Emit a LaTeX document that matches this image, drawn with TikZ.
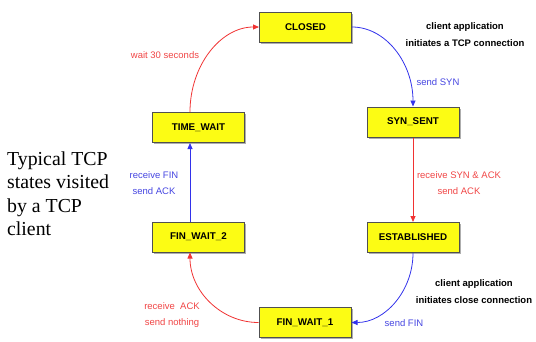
\documentclass[tikz,border=0pt]{standalone}
\usepackage{fontspec}
\setmainfont{Liberation Serif}
\setsansfont{Liberation Sans}
\usetikzlibrary{arrows.meta,shadows}
\definecolor{boxyellow}{RGB}{252,252,20}
\definecolor{boxedge}{RGB}{80,80,80}
\definecolor{lnred}{RGB}{240,50,50}
\definecolor{lnblue}{RGB}{50,50,235}
\definecolor{txred}{RGB}{240,70,70}
\definecolor{txblue}{RGB}{70,70,225}
\tikzset{
  state/.style={draw=boxedge, line width=1pt, fill=boxyellow, minimum width=92pt, minimum height=30pt, inner sep=0pt,
    font=\sffamily\bfseries\fontsize{9.8}{11}\selectfont,
    drop shadow={shadow xshift=1.5pt, shadow yshift=-1.5pt, fill=black!45, opacity=0.7}},
  redarr/.style={draw=lnred, line width=0.8pt, -{Triangle[length=6pt,width=5pt]}},
  bluearr/.style={draw=lnblue, line width=0.8pt, -{Triangle[length=6pt,width=5pt]}},
  redlbl/.style={text=txred, font=\sffamily\fontsize{9.5}{16}\selectfont, align=center, inner sep=0pt},
  bluelbl/.style={text=txblue, font=\sffamily\fontsize{9.5}{16}\selectfont, align=center, inner sep=0pt},
  notelbl/.style={text=black, font=\sffamily\bfseries\fontsize{9.5}{17}\selectfont, align=center, inner sep=0pt},
}
\begin{document}
\begin{tikzpicture}[x=1pt,y=1pt]
\useasboundingbox (0,0) rectangle (536,-341);
\node[state] (closed) at (305.5,-27) {CLOSED};
\node[state] (synsent) at (413,-122) {SYN\_SENT};
\node[state] (timewait) at (198.5,-127.5) {TIME\_WAIT};
\node[state] (finwait2) at (198.5,-237) {FIN\_WAIT\_2};
\node[state] (estab) at (413,-237.5) {ESTABLISHED};
\node[state] (finwait1) at (305,-322.5) {FIN\_WAIT\_1};

\coordinate (twtop) at ([xshift=-8.5pt]timewait.north);
\coordinate (twbot) at ([xshift=-8.5pt]timewait.south);
\coordinate (fw2top) at ([xshift=-8.5pt]finwait2.north);
\coordinate (fw2bot) at ([xshift=-8.5pt]finwait2.south);

\draw[redarr] (twtop) .. controls (190,-65) and (221,-27) .. (closed.west);
\draw[bluearr] (closed.east) .. controls (385.7,-27) and (413,-62.8) .. (synsent.north);
\draw[redarr] (synsent.south) -- (estab.north);
\draw[bluearr] (estab.south) .. controls (413,-291) and (385,-322.5) .. (finwait1.east);
\draw[redarr] (finwait1.west) .. controls (221,-322.5) and (190,-291) .. (fw2bot);
\draw[bluearr] (fw2top) -- (twbot);

\node[redlbl] (l1) at (165,-55) {wait 30 seconds};
\node[bluelbl] (l2) at (438,-82) {send SYN};
\node[notelbl] (n1) at (465,-34.5) {client application\\initiates a TCP connection};
\node[redlbl] (l3) at (459,-183) {receive SYN \& ACK\\send ACK};
\node[bluelbl] (l4) at (154,-183) {receive FIN\\send ACK};
\node[notelbl] (n2) at (474,-292) {client application\\initiates close connection};
\node[bluelbl] (l5) at (404,-323) {send FIN};
\node[redlbl] (l6) at (172,-315) {receive\ \ ACK\\send nothing};
\node[anchor=north west, align=left, inner sep=0pt, font=\fontsize{19.8}{23.5}\selectfont] (side) at (7,-151.5) {Typical TCP\\states visited\\by a TCP\\client};
\end{tikzpicture}
\end{document}
